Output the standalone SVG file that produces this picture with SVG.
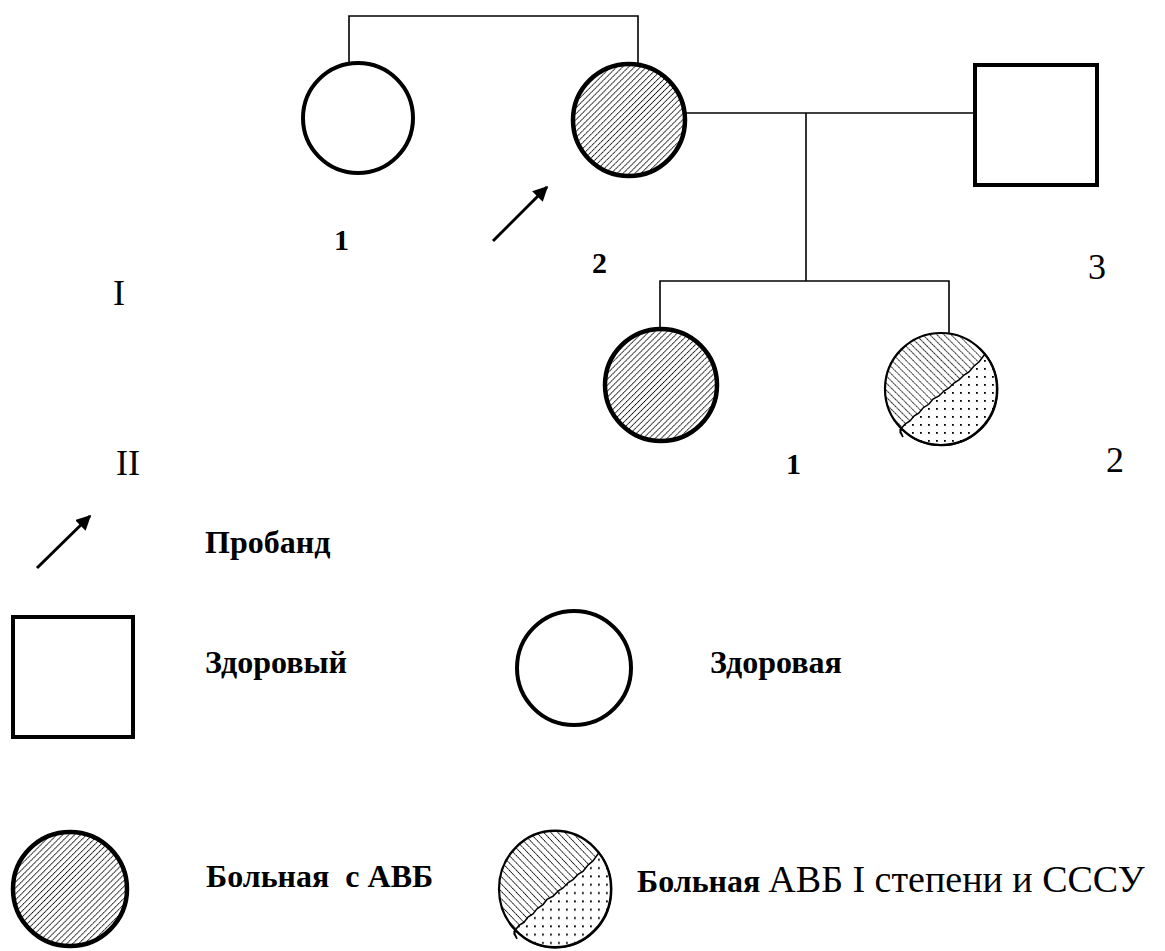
<svg xmlns="http://www.w3.org/2000/svg" xmlns:xlink="http://www.w3.org/1999/xlink" width="1165" height="951" viewBox="0 0 1165 951">
<style>
.t{font-family:"Liberation Serif","Times New Roman",serif;font-size:32px;fill:#000}
.r{font-size:36px}
.rl{font-size:38px}
.b{font-weight:bold}
.n{font-family:"Liberation Serif","Times New Roman",serif;font-size:30px;fill:#000}
.thick{fill:#fff;stroke:#000;stroke-width:4}
.hatch{fill:url(#fwd);stroke:#000;stroke-width:4.5}
.ln{fill:none;stroke:#000;stroke-width:1.6}
.arr{fill:none;stroke:#000;stroke-width:3;marker-end:url(#ah)}
</style>
<defs>
<pattern id="fwd" patternUnits="userSpaceOnUse" width="4.2" height="4.2" patternTransform="rotate(45)">
<rect width="4.2" height="4.2" fill="#fff"/>
<line x1="0" y1="0" x2="0" y2="4.2" stroke="#000" stroke-width="1.8" stroke-dasharray="1.4 0.5"/>
</pattern>
<pattern id="back" patternUnits="userSpaceOnUse" width="5" height="5" patternTransform="rotate(-45)">
<rect width="5" height="5" fill="#fff"/>
<line x1="0" y1="0" x2="0" y2="5" stroke="#000" stroke-width="1.6" stroke-dasharray="1.4 0.5"/>
</pattern>
<pattern id="dots" patternUnits="userSpaceOnUse" width="8" height="8">
<rect width="8" height="8" fill="#fff"/>
<rect x="3" y="3" width="1.8" height="1.8" fill="#000"/>
</pattern>
<marker id="ah" viewBox="0 0 10 10" refX="9" refY="5" markerWidth="5" markerHeight="5" orient="auto" markerUnits="strokeWidth">
<path d="M0,0 L10,5 L0,10 z" fill="#000"/>
</marker>
<g id="mixed">
<circle cx="0" cy="0" r="56" fill="url(#back)"/>
<path d="M-41,41 L-36,35 L-31,32 L-27,27 L-22,24 L-18,19 L-12,15 L-8,10 L-2,7 L3,2 L8,-1 L13,-6 L18,-9 L23,-14 L28,-17 L33,-23 L38,-27 L44,-35 A56,56 0 0 1 -39,40 L-41,43 L-38,48 Z" fill="url(#dots)" stroke="#000" stroke-width="1.5"/>
<circle cx="0" cy="0" r="56" fill="none" stroke="#000" stroke-width="2.2"/>
</g>
</defs>

<g id="connectors">
<path class="ln" d="M349,64 V16 H638 V64"/>
<path class="ln" d="M686,113 H975"/>
<path class="ln" d="M806,113 V281"/>
<path class="ln" d="M660,328 V281 H949 V333"/>
</g>

<g id="I-1"><circle class="thick" cx="358" cy="118" r="55"/><text class="n b" x="334" y="250">1</text></g>
<g id="I-2"><circle class="hatch" cx="629" cy="120" r="56"/><text class="n b" x="592" y="273">2</text></g>
<g id="I-3"><rect class="thick" x="975" y="65" width="122" height="120"/><text class="t r" x="1088" y="279">3</text></g>
<g id="proband-arrow"><line class="arr" x1="493" y1="241" x2="547" y2="187"/></g>
<g id="II-1"><circle class="hatch" cx="661" cy="385" r="56"/><text class="n b" x="786" y="474">1</text></g>
<g id="II-2"><use xlink:href="#mixed" x="941" y="389"/><text class="t r" x="1106" y="472">2</text></g>

<g id="generations">
<text class="t r" x="113" y="305">I</text>
<text class="t r" x="116" y="475">II</text>
</g>

<g id="legend">
<line class="arr" x1="37" y1="568" x2="90" y2="516"/>
<text class="t b" x="205" y="553">Пробанд</text>
<rect class="thick" x="13" y="617" width="120" height="120"/>
<text class="t b" x="205" y="673">Здоровый</text>
<circle class="thick" cx="574" cy="668" r="57"/>
<text class="t b" x="710" y="673">Здоровая</text>
<circle class="hatch" cx="70" cy="889" r="57"/>
<text class="t b" x="206" y="887" xml:space="preserve" style="white-space:pre">Больная  с АВБ</text>
<use xlink:href="#mixed" transform="translate(555,889) scale(1,1.04)"/>
<text class="t" x="637" y="892"><tspan class="b">Больная</tspan> <tspan class="rl">АВБ I степени и СССУ</tspan></text>
</g>
</svg>
